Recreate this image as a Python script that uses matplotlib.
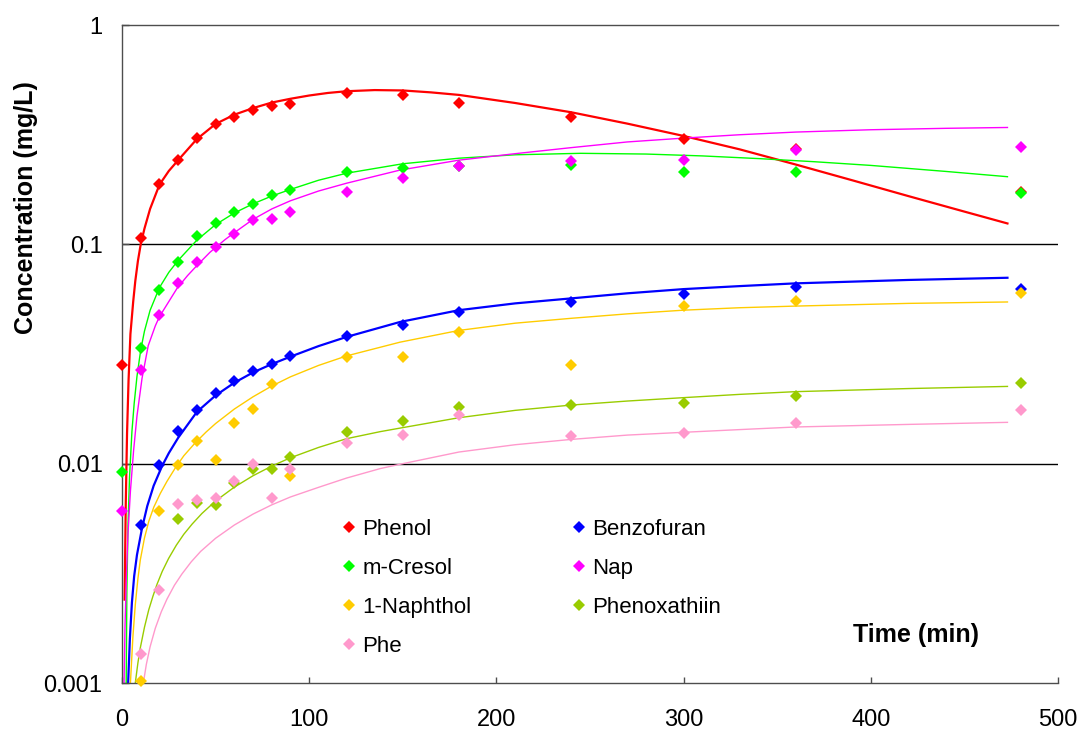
"""
Sorption kinetics of phenolic and aromatic compounds.

Measured concentrations (diamonds) and model curves for seven compounds,
on a log concentration axis against time.
"""

import matplotlib
import numpy as np

matplotlib.use("Agg")
import matplotlib.pyplot as plt
from matplotlib.ticker import FixedLocator, FuncFormatter, NullLocator

plt.rcParams["font.family"] = ["Liberation Sans", "DejaVu Sans"]

nan = np.nan

# sampling times (min)
t_obs = [0, 10, 20, 30, 40, 50, 60, 70, 80, 90, 120, 150, 180, 240, 300, 360, 480]

# measured concentrations (mg/L), nan = not detected
phenol_obs = [0.0282, 0.107, 0.189, 0.2415, 0.304, 0.354, 0.382, 0.410, 0.426, 0.438,
              0.490, 0.478, 0.441, 0.381, 0.302, 0.272, 0.174]
benzofuran_obs = [nan, 0.00523, 0.00986, 0.0141, 0.0175, 0.0209, 0.0237, 0.0264, 0.0285, 0.0309,
                  0.0383, 0.0428, 0.0493, 0.0545, 0.0593, 0.0641, 0.0625]
cresol_obs = [0.00912, 0.0337, 0.0617, 0.0828, 0.109, 0.1254, 0.1404, 0.1527, 0.1672, 0.1769,
              0.2136, 0.2236, 0.228, 0.230, 0.2143, 0.213, 0.172]
nap_obs = [0.00608, 0.0267, 0.0477, 0.0664, 0.0828, 0.0969, 0.1114, 0.129, 0.1304, 0.140,
           0.1726, 0.2013, 0.2275, 0.240, 0.2424, 0.270, 0.279]
naphthol_obs = [nan, 0.00102, 0.00608, 0.00986, 0.0127, 0.0104, 0.0154, 0.0177, 0.0232, 0.00877,
                0.0306, 0.0305, 0.0397, 0.0282, 0.0522, 0.0553, 0.0601]
phenoxathiin_obs = [nan, nan, nan, 0.00559, 0.0066, 0.0065, 0.0082, 0.0095, 0.0095, 0.01075,
                    0.01393, 0.0157, 0.0181, 0.01845, 0.0189, 0.0203, 0.0233]
phe_obs = [nan, 0.00136, 0.00266, 0.00654, 0.0068, 0.00695, 0.0083, 0.00996, 0.00695, 0.00942,
           0.0124, 0.0135, 0.01666, 0.0134, 0.01383, 0.0154, 0.01755]

# model curves
phenol_fit_t = [1.4, 2.0, 2.7, 3.5, 4.5, 6, 7.1, 8.5, 10, 12, 15, 20, 25, 30, 40, 50, 60, 70, 80,
                90, 100, 110, 120, 135, 150, 165, 180, 210, 240, 270, 300, 330, 360, 390, 420,
                450, 473]
phenol_fit = [0.0024, 0.0065, 0.0138, 0.024, 0.039, 0.055, 0.068, 0.084, 0.100, 0.118, 0.145,
              0.187, 0.216, 0.242, 0.302, 0.354, 0.390, 0.418, 0.443, 0.461, 0.477, 0.490,
              0.499, 0.505, 0.503, 0.493, 0.480, 0.441, 0.400, 0.355, 0.312, 0.271, 0.231,
              0.196, 0.166, 0.141, 0.1245]

benzofuran_fit_t = [3.2, 4.2, 5.3, 6.5, 8, 10.7, 13.5, 16.9, 21.4, 25, 30, 40, 50, 60, 70, 80,
                    90, 105, 120, 148.5, 180, 210, 240, 270, 300, 330, 360, 420, 473]
benzofuran_fit = [0.00096, 0.00159, 0.00233, 0.00307, 0.00384, 0.00508, 0.00641, 0.00793,
                  0.00975, 0.01117, 0.01312, 0.01722, 0.02046, 0.02339, 0.02606, 0.02844,
                  0.03076, 0.03436, 0.03784, 0.04426, 0.0501, 0.0538, 0.0567, 0.0598, 0.0625,
                  0.0645, 0.0664, 0.0688, 0.0704]

cresol_fit_t = [2.2, 2.6, 3.2, 4, 5.3, 6.5, 8, 10, 12, 15, 20, 25, 30, 40, 50, 60, 70, 80, 90,
                105, 120, 150, 180, 210, 245, 280, 310, 340, 370, 400, 440, 473]
cresol_fit = [0.0009, 0.0026, 0.0052, 0.0086, 0.0140, 0.0188, 0.0250, 0.0330, 0.0402, 0.050,
              0.0635, 0.0745, 0.0845, 0.1045, 0.123, 0.139, 0.153, 0.166, 0.178, 0.196, 0.211,
              0.233, 0.247, 0.256, 0.260, 0.258, 0.253, 0.246, 0.238, 0.229, 0.215, 0.2034]

nap_fit_t = [1.0, 1.6, 2.3, 3.2, 4.5, 6.2, 8, 10.7, 14, 17.8, 20, 29.4, 35, 40, 47, 55, 60, 70,
             80, 90, 105, 120, 148.5, 180, 210, 240, 270, 300, 330, 360, 400, 440, 473]
nap_fit = [0.0009, 0.0018, 0.0030, 0.0048, 0.0075, 0.0115, 0.0165, 0.0245, 0.0345, 0.0425,
           0.0468, 0.063, 0.072, 0.080, 0.092, 0.105, 0.113, 0.130, 0.145, 0.158, 0.175, 0.190,
           0.218, 0.242, 0.259, 0.276, 0.293, 0.305, 0.316, 0.325, 0.333, 0.338, 0.341]

naphthol_fit_t = [4.5, 5.8, 7.1, 8.5, 9.8, 12, 14.3, 17, 20.5, 24, 28.5, 33, 39.2, 45, 50, 60,
                  70, 80, 90, 105, 120, 148.5, 180, 210, 240, 270, 300, 330, 360, 420, 473]
naphthol_fit = [0.001, 0.001614, 0.002275, 0.002992, 0.003648, 0.004581, 0.005458, 0.006339,
                0.007328, 0.008299, 0.009572, 0.01086, 0.01247, 0.01396, 0.01524, 0.01774,
                0.02018, 0.02259, 0.02489, 0.02805, 0.0310, 0.0358, 0.0405, 0.0437, 0.0460,
                0.0482, 0.0501, 0.0514, 0.0523, 0.0538, 0.0546]

phenoxathiin_fit_t = [7.1, 8.5, 9.8, 12, 14.3, 16.5, 18.7, 21.5, 24.9, 29, 33, 37.5, 42.7, 50,
                      60, 70, 80, 90, 105, 120, 138, 150, 180, 210, 240, 270, 300, 330, 360,
                      420, 473]
phenoxathiin_fit = [0.001, 0.001236, 0.001449, 0.001795, 0.002158, 0.002483, 0.002818,
                    0.003228, 0.003698, 0.004246, 0.004764, 0.005309, 0.005929, 0.006761,
                    0.007816, 0.00881, 0.00975, 0.010641, 0.011858, 0.013002, 0.0140, 0.0146,
                    0.0162, 0.0175, 0.0185, 0.0193, 0.0200, 0.0207, 0.0213, 0.0220, 0.0225]

phe_fit_t = [11.4, 13, 15, 17.8, 21, 24, 28, 32, 37, 42, 50, 60, 70, 80, 90, 105, 120, 138,
             150, 180, 210, 240, 270, 300, 330, 360, 420, 473]
phe_fit = [0.001, 0.001216, 0.001462, 0.001778, 0.002113, 0.00241, 0.00279, 0.00314, 0.00357,
           0.00398, 0.00457, 0.00525, 0.00589, 0.00649, 0.00705, 0.0078, 0.0086, 0.0095,
           0.0100, 0.0113, 0.0122, 0.0129, 0.0135, 0.0139, 0.0143, 0.0147, 0.0151, 0.01543]

y_ticks = [0.001, 0.01, 0.1, 1]
x_ticks = [0, 100, 200, 300, 400, 500]

# name, colour, measured, curve time, curve values, curve width
SERIES = [
    ("Phenol", "#FF0000", phenol_obs, phenol_fit_t, phenol_fit, 1.6),
    ("Benzofuran", "#0000FF", benzofuran_obs, benzofuran_fit_t, benzofuran_fit, 1.6),
    ("m-Cresol", "#00FF00", cresol_obs, cresol_fit_t, cresol_fit, 1.0),
    ("Nap", "#FF00FF", nap_obs, nap_fit_t, nap_fit, 1.0),
    ("1-Naphthol", "#FFCC00", naphthol_obs, naphthol_fit_t, naphthol_fit, 1.0),
    ("Phenoxathiin", "#99CC00", phenoxathiin_obs, phenoxathiin_fit_t, phenoxathiin_fit, 1.0),
    ("Phe", "#FF99CC", phe_obs, phe_fit_t, phe_fit, 1.0),
]
AXIS_GREY = "#4d4d4d"

fig = plt.figure(figsize=(10.81, 7.31), dpi=100)
ax = fig.add_axes([122 / 1081, 48 / 731, 936 / 1081, 658 / 731])
ax.set_yscale("log")

handles = {}
for name, color, obs, fit_t, fit, lw in SERIES:
    ax.plot(fit_t, fit, color=color, linewidth=lw, zorder=2)
for name, color, obs, fit_t, fit, lw in SERIES:
    (h,) = ax.plot(t_obs, obs, linestyle="none", marker="D", markersize=6.4,
                   markerfacecolor=color, markeredgewidth=0, label=name,
                   clip_on=False, zorder=3)
    handles[name] = h

ax.set_xlim(0, 500)
ax.set_ylim(0.001, 1)

ax.xaxis.set_major_locator(FixedLocator(x_ticks))
ax.yaxis.set_major_locator(FixedLocator(y_ticks))
ax.yaxis.set_minor_locator(NullLocator())
ax.yaxis.set_major_formatter(FuncFormatter(lambda v, _: f"{v:g}"))

ax.tick_params(axis="x", direction="in", length=4, width=1, color=AXIS_GREY,
               labelsize=17, pad=18.5)
ax.tick_params(axis="y", direction="in", length=5, width=1, color=AXIS_GREY,
               labelsize=17, pad=14)

for v in y_ticks[1:-1]:
    ax.axhline(v, color="black", linewidth=1, zorder=1)

ax.spines["right"].set_visible(False)
for side in ("left", "bottom", "top"):
    ax.spines[side].set_color(AXIS_GREY)
    ax.spines[side].set_linewidth(1)

fig.text(26 / 1081, 1 - 208 / 731, "Concentration (mg/L)", rotation=90,
         ha="center", va="center", fontsize=18, fontweight="bold")
ax.text(0.848, 0.073, "Time (min)", transform=ax.transAxes, ha="center",
        va="center", fontsize=18, fontweight="bold")

legend_order = ["Phenol", "m-Cresol", "1-Naphthol", "Phe", "Benzofuran", "Nap", "Phenoxathiin"]
ax.legend([handles[n] for n in legend_order], legend_order, ncol=2, frameon=False,
          loc="upper left", bbox_to_anchor=(0.2366, 0.2494), borderaxespad=0,
          borderpad=0, fontsize=16, handlelength=0.5, handletextpad=0.34,
          columnspacing=4.6, labelspacing=0.81, markerscale=0.95)

fig.savefig("out.png", dpi=100)
